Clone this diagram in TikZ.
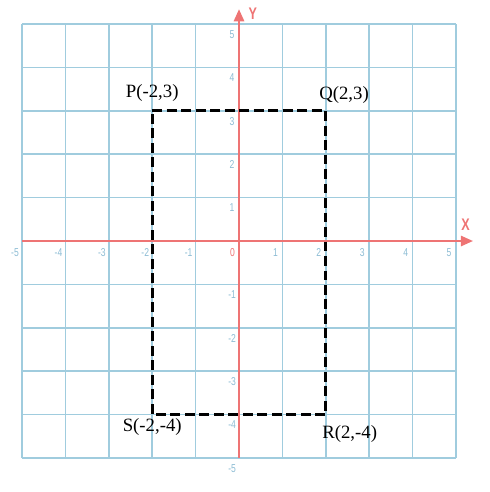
\documentclass[tikz,border=0pt]{standalone}
\usepackage{fontspec}
\setmainfont{Liberation Serif}
\newfontfamily\narrowsans[FakeStretch=0.75]{Liberation Sans}
\usetikzlibrary{arrows.meta}

\definecolor{gridblue}{RGB}{160,204,222}
\definecolor{axisred}{RGB}{238,116,116}
\definecolor{ticktext}{RGB}{140,188,212}

\tikzset{
  axisline/.style={axisred, line width=1.2pt, ->},
  axislabel/.style={axisred, font=\narrowsans\bfseries\fontsize{11}{12}\selectfont},
  ticklabel/.style={ticktext, inner sep=0pt, font=\narrowsans\fontsize{7.5}{8}\selectfont},
  rectdash/.style={black, line width=2pt, dash pattern=on 6.5pt off 3pt},
  ptlabel/.style={inner sep=0pt, font=\fontsize{12.3}{14}\selectfont}
}

\begin{document}
\begin{tikzpicture}[>={Triangle[length=0.28cm, width=0.24cm]}]
  \useasboundingbox (-5.507,-5.783) rectangle (5.783,5.553);

  % grid
  \draw[gridblue, line width=1pt] (-5,-5) grid (5,5);

  % axes
  \coordinate (xstart) at (-5,0);
  \coordinate (xend) at (5.39,0);
  \coordinate (ystart) at (0,-5);
  \coordinate (yend) at (0,5.34);
  \draw[axisline] (xstart) -- (xend);
  \draw[axisline] (ystart) -- (yend);
  \node[axislabel] (xlab) at (5.22,0.38) {X};
  \node[axislabel] (ylab) at (0.32,5.23) {Y};

  % tick numbers
  \foreach \i in {-5,...,-1,1,2,3,4,5} {
    \node[ticklabel] (xt\i) at (\i-0.16,-0.26) {\i};
    \node[ticklabel] (yt\i) at (-0.16,\i-0.24) {\i};
  }
  \node[ticklabel, axisred] (orig) at (-0.15,-0.26) {0};

  % rectangle PQRS
  \coordinate (P) at (-2,3);
  \coordinate (Q) at (2,3);
  \coordinate (R) at (2,-4);
  \coordinate (S) at (-2,-4);
  \draw[rectdash] (P) -- (Q) -- (R) -- (S) -- cycle;

  \node[ptlabel] (plab) at (-2.0,3.40) {P(-2,3)};
  \node[ptlabel] (qlab) at (2.42,3.36) {Q(2,3)};
  \node[ptlabel] (rlab) at (2.55,-4.45) {R(2,-4)};
  \node[ptlabel] (slab) at (-2.0,-4.29) {S(-2,-4)};
\end{tikzpicture}
\end{document}
